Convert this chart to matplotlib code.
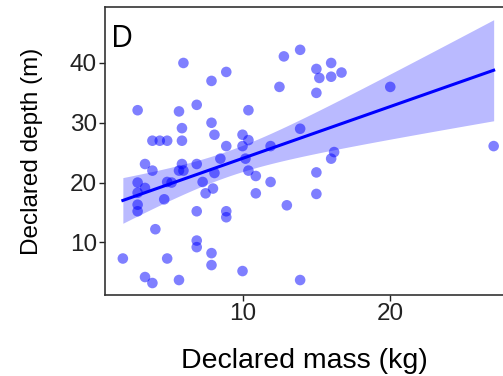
import numpy as np
import matplotlib.pyplot as plt

plt.rcParams['font.family'] = ['Liberation Sans', 'DejaVu Sans']

# declared mass (kg) and declared depth (m)
mass = [6.0, 8.9, 7.9, 12.8, 13.9, 12.5, 2.9, 5.7, 6.9, 10.4,
        5.9, 7.9, 8.1, 3.9, 4.4, 4.9, 5.9, 10.0, 10.4, 8.9,
        10.0, 11.9, 13.9, 15.0, 16.0, 15.2, 16.0, 16.7, 15.0, 20.0,
        27.0, 16.2, 16.0, 15.0, 15.0, 3.4, 3.9, 5.9, 5.7, 6.0,
        6.9, 8.5, 10.2, 8.1, 10.4, 10.9, 2.9, 3.4, 4.9, 5.2,
        7.3, 8.0, 7.5, 11.9, 10.9, 2.9, 2.9, 2.9, 4.7, 6.9,
        8.9, 8.9, 13.0, 4.1, 6.9, 6.9, 7.9, 1.9, 4.9, 7.9,
        3.4, 3.9, 5.7, 10.0, 13.9]
depth = [40.0, 38.5, 37.0, 41.1, 42.2, 36.0, 32.1, 31.9, 33.0, 32.1,
         29.1, 30.0, 28.0, 27.0, 27.0, 27.0, 27.0, 28.0, 27.1, 26.1,
         26.1, 26.1, 29.0, 39.0, 40.0, 37.5, 37.7, 38.4, 35.0, 36.0,
         26.1, 25.1, 24.0, 21.7, 18.1, 23.1, 22.0, 23.1, 22.0, 22.0,
         23.1, 24.0, 24.0, 21.6, 22.0, 21.1, 20.0, 19.1, 20.1, 20.0,
         20.1, 19.0, 18.2, 20.1, 18.2, 18.3, 16.3, 15.2, 17.2, 15.2,
         15.2, 14.2, 16.2, 12.2, 10.3, 9.2, 8.2, 7.3, 7.3, 6.2,
         4.2, 3.2, 3.7, 5.2, 3.7]

x = np.array(mass)
y = np.array(depth)

# linear fit with 95% confidence band
n = len(x)
slope, intercept = np.polyfit(x, y, 1)
resid = y - (slope * x + intercept)
s = np.sqrt(np.sum(resid ** 2) / (n - 2))
t_val = 1.993
xs = np.linspace(x.min(), x.max(), 100)
ys = slope * xs + intercept
se = s * np.sqrt(1 / n + (xs - x.mean()) ** 2 / np.sum((x - x.mean()) ** 2))

fig = plt.figure(figsize=(5.03, 3.76), dpi=100)
ax = fig.add_axes([0.209, 0.215, 0.793, 0.767])

ax.scatter(x, y, s=58, color='#0000ff', alpha=0.5, edgecolors='none', zorder=2)
ax.fill_between(xs, ys - t_val * se, ys + t_val * se, color='#0000ff',
                alpha=0.27, linewidth=0, zorder=3)
ax.plot(xs, ys, color='#0000ff', linewidth=2.2, zorder=4)

ax.set_xlim(0.7, 27.7)
ax.set_ylim(1.17, 49.4)
ax.set_xticks([10, 20])
ax.set_yticks([10, 20, 30, 40])
ax.tick_params(labelsize=17.5, length=4, width=1, pad=2, colors='#222222')
for sp in ax.spines.values():
    sp.set_color('#333333')
    sp.set_linewidth(1.2)

ax.set_xlabel('Declared mass (kg)', fontsize=20.5, labelpad=16)
ax.set_ylabel('Declared depth (m)', fontsize=17.5, labelpad=19)
ax.text(0.015, 0.861, 'D', transform=ax.transAxes, fontsize=22,
        va='baseline', ha='left', family=['Open Sans', 'DejaVu Sans'])

fig.savefig('out.png', dpi=100)
